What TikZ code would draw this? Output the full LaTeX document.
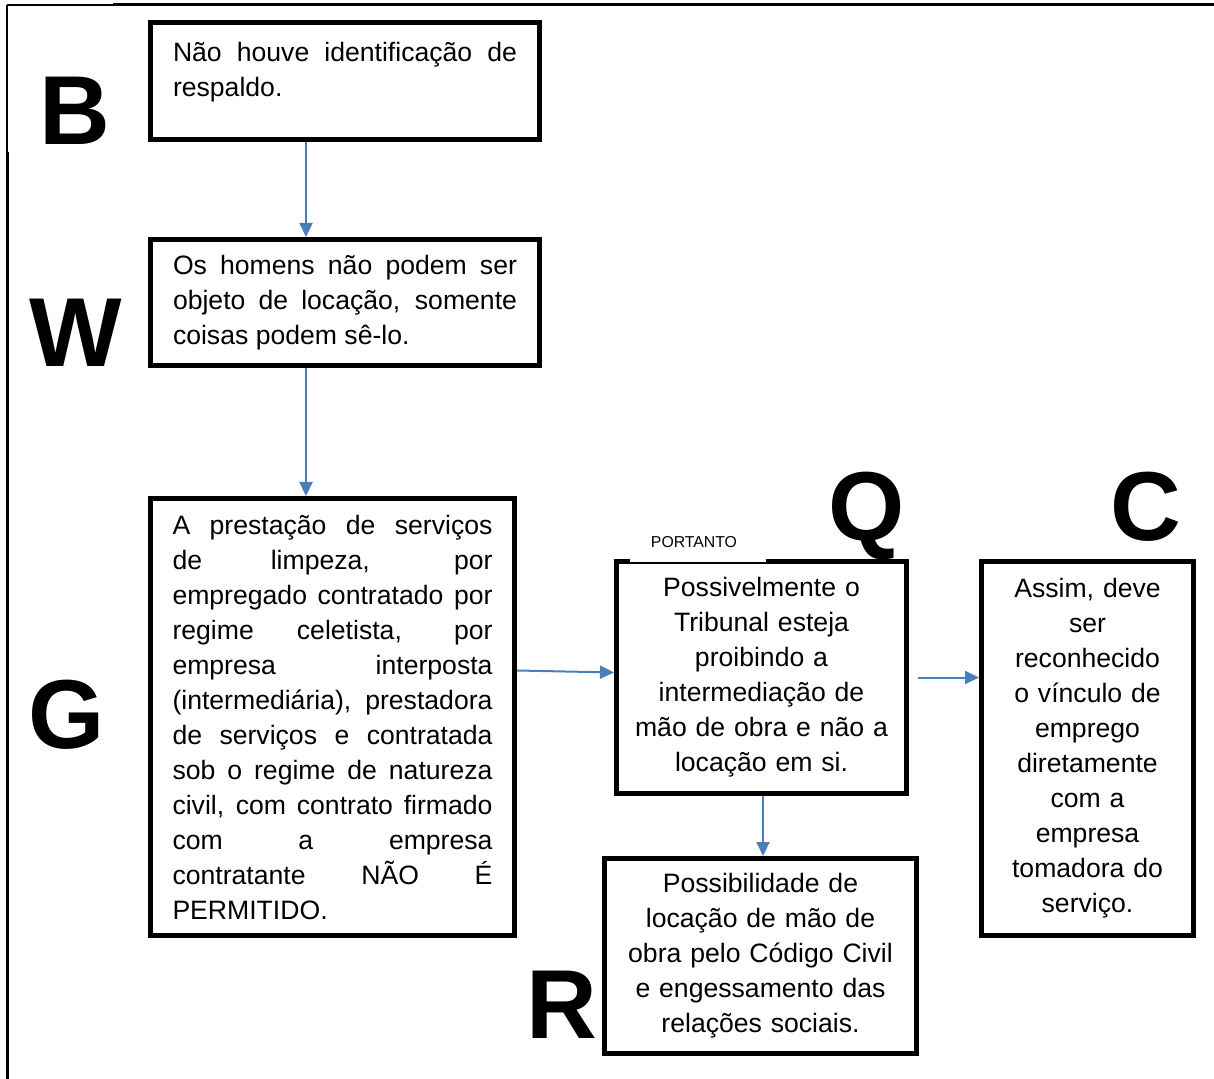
\documentclass[tikz,border=0pt]{standalone}
\usepackage{fontspec}
\setmainfont{Liberation Sans}
\usetikzlibrary{arrows.meta}

\begin{document}
\begin{tikzpicture}[x=0.5pt, y=-0.5pt,
		caixa/.style={draw, line width=2.5pt, inner sep=0pt, font=\fontsize{13.3}{17.5}\selectfont},
		letra/.style={anchor=base, inner sep=0pt, font=\fontsize{49}{49}\selectfont\bfseries},
		seta/.style={draw=azul, line width=1pt, -{Triangle[length=7pt, width=6.5pt]}}]
		\definecolor{azul}{HTML}{4A7EBB}
		\useasboundingbox (0,0) rectangle (1214,1079);
		% moldura
		\draw[line width=0.6pt] (7,5) -- (113,5);
		\draw[line width=1.5pt] (113,5) -- (1214,5);
		\draw[line width=0.6pt] (7,5) -- (7,152);
		\draw[line width=1.5pt] (7,152) -- (7,1079);
		% caixas
		\node[caixa, minimum width=194.5pt, minimum height=58.5pt, text width=172pt, text depth=29.5pt, align=justify] (B) at (345,81)
			{Não houve identificação de\linebreak respaldo.};
		\node[caixa, minimum width=194.5pt, minimum height=63pt, text width=172pt, align=justify] (W) at (345,302.5)
			{Os homens não podem ser\linebreak objeto de locação, somente\linebreak coisas podem sê-lo.};
		\node[caixa, minimum width=182pt, minimum height=218.5pt, text width=160pt, align=justify] (G) at (332.5,717)
			{A prestação de serviços\linebreak de limpeza, por\linebreak empregado contratado por\linebreak regime celetista, por\linebreak empresa interposta\linebreak (intermediária), prestadora\linebreak de serviços e contratada\linebreak sob o regime de natureza\linebreak civil, com contrato firmado\linebreak com a empresa\linebreak contratante NÃO É\linebreak PERMITIDO.};
		\node[caixa, minimum width=145pt, minimum height=116pt, text width=135pt, align=center] (Q) at (761.5,677.5)
			{Possivelmente o\\ Tribunal esteja\\ proibindo a\\ intermediação de\\ mão de obra e não a\\ locação em si.};
		\node[caixa, minimum width=156pt, minimum height=97.5pt, text width=146pt, align=center] (R) at (760.5,956)
			{Possibilidade de\\ locação de mão de\\ obra pelo Código Civil\\ e engessamento das\\ relações sociais.};
		\node[caixa, minimum width=106pt, minimum height=187pt, text width=96pt, align=center] (C) at (1087.5,748.5)
			{Assim, deve\\ ser\\ reconhecido\\ o vínculo de\\ emprego\\ diretamente\\ com a\\ empresa\\ tomadora do\\ serviço.};
		\node[fill=white, anchor=south, minimum width=68pt, minimum height=20pt, inner sep=0pt, font=\fontsize{7.9}{9}\selectfont] (portanto) at (698,562) {\hspace*{-4pt}PORTANTO};
		% letras
		\node[letra] (lB) at (75,145) {B};
		\node[letra] (lW) at (76,367) {W};
		\node[letra] (lG) at (67,748) {G};
		\node[letra] (lQ) at (867,540) {Q};
		\node[letra] (lC) at (1146,540) {C};
		\node[letra] (lR) at (562,1038) {R};
		% setas
		\draw[seta] (B.south -| 306,0) -- (W.north -| 306,0);
		\draw[seta] (W.south -| 306,0) -- (G.north -| 306,0);
		\draw[seta] ([yshift=3.5pt]G.east |- Q.west) -- ([yshift=2.5pt]Q.west);
		\draw[seta, shorten <=4.5pt] (Q.east) -- (C.west |- Q.east);
		\draw[seta] (Q.south -| 763,0) -- (R.north -| 763,0);
	\end{tikzpicture}
\end{document}
